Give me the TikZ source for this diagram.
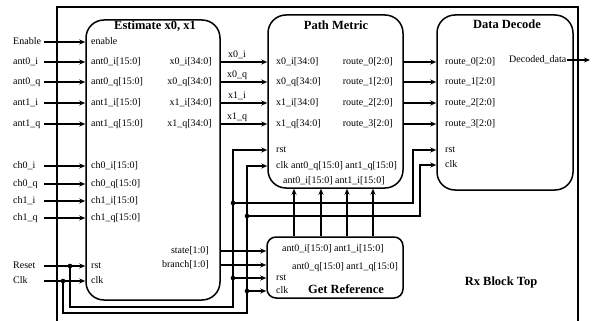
\documentclass[tikz,border=0pt]{standalone}
\usepackage{fontspec}
\setmainfont{Liberation Serif}
\usetikzlibrary{arrows.meta}

\begin{document}
\begin{tikzpicture}[x=1pt, y=-1pt,
  blk/.style={draw, line width=1.5pt, rounded corners=18pt, inner sep=0pt},
  lbl/.style={font=\fontsize{10}{12}\selectfont, inner sep=0pt, text height=7pt, text depth=2pt},
  inlbl/.style={lbl, anchor=west, text width=31pt, align=left},
  ttl/.style={font=\fontsize{12.5}{15}\selectfont\bfseries, inner sep=0pt},
  sig/.style={line width=1.4pt, -{Stealth[length=6pt, width=5pt]}},
  jdot/.style={circle, fill, inner sep=0pt, minimum size=4.6pt},
]
  \useasboundingbox (0,0) rectangle (592,321);
  % outer frame
  \draw[line width=2.4pt] (57,321) |- (578,7) -- (578,321);
  \node[ttl, anchor=base] (rx-ttl) at (501,285) {Rx Block Top};

  % blocks
  \node[blk, minimum width=134pt, minimum height=280pt] (est) at (153,160) {};
  \node[blk, minimum width=135pt, minimum height=173pt] (pm) at (335.5,101.5) {};
  \node[blk, minimum width=136pt, minimum height=175pt] (dd) at (505,102.5) {};
  \node[blk, rounded corners=9pt, minimum width=136pt, minimum height=61pt] (gr) at (335,267.5) {};
  \node[ttl, anchor=base] (est-ttl) at (155,30) {Estimate x0, x1};
  \node[ttl, anchor=base] (pm-ttl) at (336,29.5) {Path Metric};
  \node[ttl, anchor=base] (dd-ttl) at (507,29) {Data Decode};
  \node[ttl, anchor=base] (gr-ttl) at (346,293) {Get Reference};

  % inputs of Estimate x0, x1
  \foreach \nm/\ext/\pin/\yy in {en/Enable/enable/42, a0i/ant0\_i/ant0\_i[15:0]/62,
      a0q/ant0\_q/ant0\_q[15:0]/82, a1i/ant1\_i/ant1\_i[15:0]/103, a1q/ant1\_q/ant1\_q[15:0]/124,
      c0i/ch0\_i/ch0\_i[15:0]/166, c0q/ch0\_q/ch0\_q[15:0]/184, c1i/ch1\_i/ch1\_i[15:0]/201,
      c1q/ch1\_q/ch1\_q[15:0]/218, rst/Reset/rst/266, clk/Clk/clk/281} {
    \node[inlbl] (in-\nm) at (13,\yy) {\ext};
    \node[lbl, anchor=west] (est-\nm) at (91,\yy) {\pin};
    \draw[sig] (in-\nm.east) -- (est.west |- est-\nm.west);
  }

  % Estimate x0, x1 -> Path Metric
  \foreach \nm/\sg/\yy in {x0i/x0\_i/62, x0q/x0\_q/82, x1i/x1\_i/103, x1q/x1\_q/124} {
    \node[lbl, anchor=east] (est-\nm) at (212,\yy) {\sg[34:0]};
    \node[lbl, anchor=west] (pm-\nm) at (276,\yy) {\sg[34:0]};
    \draw[sig] (est.east |- est-\nm.east) -- node[lbl, above=2pt, pos=0.35] {\sg} (pm.west |- pm-\nm.west);
  }

  % Path Metric -> Data Decode
  \foreach \k/\yy in {0/62, 1/82, 2/103, 3/124} {
    \node[lbl, anchor=east] (pm-r\k) at (393,\yy) {route\_\k[2:0]};
    \node[lbl, anchor=west] (dd-r\k) at (445,\yy) {route\_\k[2:0]};
    \draw[sig] (pm.east |- pm-r\k.east) -- (dd.west |- dd-r\k.west);
  }

  \node[lbl, anchor=west] (pm-rst) at (276,150) {rst};
  \node[lbl, anchor=west] (pm-clk) at (276,166) {clk};
  \node[lbl, anchor=west] (pm-q) at (291,166) {ant0\_q[15:0] ant1\_q[15:0]};
  \node[lbl, anchor=west] (pm-i) at (283,181) {ant0\_i[15:0] ant1\_i[15:0]};

  \node[lbl, anchor=west] (dd-rst) at (445,150) {rst};
  \node[lbl, anchor=west] (dd-clk) at (445,165) {clk};
  \node[lbl, anchor=west] (dd-out) at (509,60) {Decoded\_data};
  \coordinate (decOut) at (590,60);
  \draw[sig] (dd-out.east) -- (decOut);

  % Get Reference
  \node[lbl, anchor=west] (gr-i) at (282,249) {ant0\_i[15:0] ant1\_i[15:0]};
  \node[lbl, anchor=west] (gr-q) at (292,267) {ant0\_q[15:0] ant1\_q[15:0]};
  \node[lbl, anchor=west] (gr-rst) at (276,278) {rst};
  \node[lbl, anchor=west] (gr-clk) at (276,291) {clk};
  \node[lbl, anchor=east] (est-st) at (209,251) {state[1:0]};
  \node[lbl, anchor=east] (est-br) at (209,265) {branch[1:0]};
  \draw[sig] (est.east |- est-st.east) -- (gr.west |- est-st.east);
  \draw[sig] (est.east |- est-br.east) -- (gr.west |- est-br.east);
  \foreach \xx [count=\k] in {294,321,347,373} {
    \coordinate (ref\k) at (\xx,0);
    \draw[sig] (ref\k |- gr.north) -- (ref\k |- pm.south);
  }

  % reset and clock
  \node[jdot] (rdot1) at (70,266) {};
  \node[jdot] (cdot1) at (63,281) {};
  \coordinate (rbus) at (233,307);
  \coordinate (cbus) at (247,313);
  \draw[sig] (rdot1.center) |- (rbus) |- (pm.west |- pm-rst.west);
  \draw[sig] (cdot1.center) |- (cbus) |- (pm.west |- pm-clk.west);
  \node[jdot] (rdot2) at (233,203) {};
  \node[jdot] (cdot2) at (247,216) {};
  \coordinate (rturn) at (413,203);
  \coordinate (cturn) at (420,216);
  \draw[sig] (rdot2.center) -- (rturn) |- (dd.west |- dd-rst.west);
  \draw[sig] (cdot2.center) -- (cturn) |- (dd.west |- dd-clk.west);
  \node[jdot] (rdot3) at (rbus |- gr-rst.west) {};
  \node[jdot] (cdot3) at (cbus |- gr-clk.west) {};
  \draw[sig] (rdot3.center) -- (gr.west |- gr-rst.west);
  \draw[sig] (cdot3.center) -- (gr.west |- gr-clk.west);
\end{tikzpicture}
\end{document}
